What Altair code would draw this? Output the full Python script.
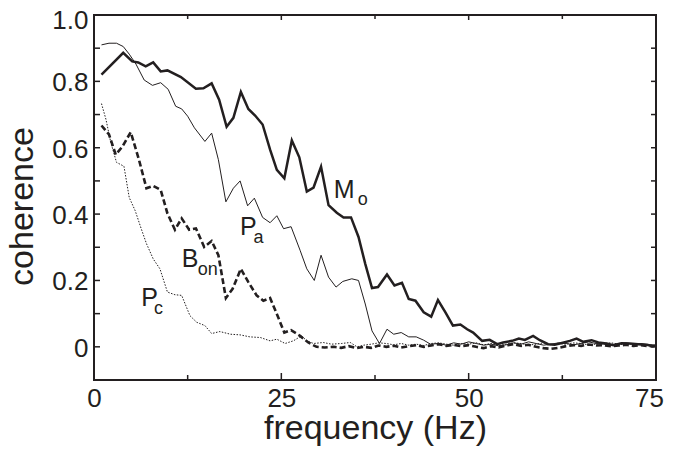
import altair as alt
import pandas as pd

FONT = "Liberation Sans"
INK = "#231f20"

# ---- data ----
mo_f = [1, 3.9, 5.1, 5.9, 6.9, 7.9, 8.9, 9.8, 11.6, 13.6, 14.6, 15.7, 16.7, 17.7, 18.6, 19.6,
        20.6, 21.5, 22.5, 23.5, 24.4, 25.4, 26.4, 27.4, 28.4, 29.3, 30.3, 31.3, 32.4, 33.3,
        34.3, 35.3, 36.2, 37.1, 37.9, 39.1, 40.1, 41.1, 42.0, 42.9, 44.0, 45.0, 45.9, 46.9,
        47.9, 48.9, 49.8, 50.6, 51.8, 52.8, 53.8, 54.6, 55.8, 56.7, 57.5, 58.6, 59.5, 60.6,
        61.5, 62.7, 63.5, 64.4, 65.3, 66.4, 67.3, 68.4, 69.3, 70.4, 71.5, 72.6, 73.8, 74.7]
mo_v = [0.82, 0.886, 0.86, 0.857, 0.845, 0.857, 0.83, 0.833, 0.813, 0.778, 0.779, 0.794, 0.745,
        0.663, 0.69, 0.768, 0.717, 0.697, 0.67, 0.594, 0.533, 0.508, 0.622, 0.571, 0.468, 0.48,
        0.543, 0.427, 0.404, 0.39, 0.39, 0.331, 0.25, 0.177, 0.18, 0.218, 0.185, 0.193, 0.144,
        0.139, 0.104, 0.091, 0.141, 0.104, 0.064, 0.067, 0.053, 0.043, 0.018, 0.021, 0.008,
        0.013, 0.018, 0.025, 0.021, 0.033, 0.02, 0.008, 0.006, 0.013, 0.018, 0.025, 0.015,
        0.02, 0.013, 0.01, 0.005, 0.011, 0.01, 0.008, 0.006, 0.001]

pa_f = [1, 2, 3, 3.9, 4.7, 5.6, 6.7, 7.8, 8.9, 9.9, 10.9, 11.7, 12.5, 13.4, 14.8, 15.7, 16.6,
        17.6, 18.6, 19.5, 20.5, 21.4, 22.5, 23.5, 24.4, 25.3, 26.3, 27.5, 28.4, 29.4, 30.3,
        31.3, 32.3, 33.2, 34.4, 35.3, 36.2, 37.1, 38.1, 39.1, 40.0, 41.0, 42.0, 43.0, 44.0,
        44.9, 46, 47, 48, 49, 50, 51, 52, 53, 54, 55, 56, 57, 58, 59, 60, 61, 62, 63, 64, 65,
        66, 67, 68, 69, 70, 71, 72, 73, 74, 75]
pa_v = [0.91, 0.915, 0.915, 0.905, 0.882, 0.852, 0.804, 0.788, 0.796, 0.776, 0.725, 0.717,
        0.695, 0.66, 0.619, 0.644, 0.564, 0.437, 0.478, 0.5, 0.425, 0.448, 0.39, 0.374, 0.395,
        0.356, 0.362, 0.291, 0.235, 0.2, 0.276, 0.21, 0.18, 0.197, 0.205, 0.2, 0.129, 0.048,
        0.01, 0.053, 0.038, 0.043, 0.03, 0.03, 0.02, 0.008, 0.01, 0.005, 0.012, 0.008, 0.015,
        0.01, 0.005, 0.008, 0.003, 0.006, 0.012, 0.008, 0.015, 0.01, 0.005, 0.008, 0.012, 0.01,
        0.006, 0.01, 0.015, 0.01, 0.008, 0.005, 0.01, 0.012, 0.008, 0.01, 0.006, 0.005]

bon_f = [1, 2, 2.9, 3.8, 4.9, 6.0, 7.0, 7.9, 8.9, 9.8, 10.8, 11.7, 12.7, 13.6, 14.7, 15.7, 16.6,
         17.6, 18.5, 19.6, 20.6, 21.7, 22.6, 23.5, 24.4, 25.4, 26.3, 27.5, 28.6, 29.7, 30.8, 32,
         33, 34, 35, 36, 37, 38, 39, 40, 41, 42, 43, 44, 45, 46, 47, 48, 49, 50, 51, 52, 53, 54,
         55, 56, 57, 58, 59, 60, 61, 62, 63, 64, 65, 66, 67, 68, 69, 70, 71, 72, 73, 74, 75]
bon_v = [0.667, 0.64, 0.579, 0.604, 0.647, 0.564, 0.478, 0.485, 0.473, 0.402, 0.353, 0.387,
         0.353, 0.357, 0.301, 0.319, 0.276, 0.147, 0.175, 0.235, 0.195, 0.155, 0.139, 0.147,
         0.099, 0.043, 0.05, 0.033, 0.013, 0.0, -0.002, 0.0, -0.003, 0.002, -0.004, 0.0,
         -0.003, 0.004, 0.0, 0.003, -0.002, 0.002, 0.005, 0.0, 0.004, 0.008, 0.003, 0.006,
         0.002, 0.005, 0.0, -0.004, 0.002, -0.002, 0.004, 0.008, 0.003, 0.006, 0.0, -0.004,
         -0.006, -0.003, 0.002, 0.005, 0.003, 0.007, 0.004, 0.005, 0.002, 0.004, 0.006, 0.003,
         0.005, 0.002, 0.003]

pc_f = [1, 1.6, 2.2, 3.0, 4.0, 4.7, 5.5, 6.3, 7.0, 7.9, 8.8, 9.8, 10.8, 11.7, 12.8, 13.7, 14.8,
        15.7, 16.8, 18.2, 19.5, 20.8, 22.2, 23.5, 24.4, 25.5, 26.6, 27.7, 28.4, 29.3, 30.6,
        31.7, 33, 34.2, 35.1, 36, 37, 38, 39, 40, 41, 42, 43, 44, 45, 46, 47, 48, 49, 50, 51,
        52, 53, 54, 55, 56, 57, 58, 59, 60, 61, 62, 63, 64, 65, 66, 67, 68, 69, 70, 71, 72, 73,
        74, 75]
pc_v = [0.733, 0.685, 0.62, 0.556, 0.544, 0.45, 0.41, 0.356, 0.311, 0.265, 0.235, 0.165, 0.157,
        0.155, 0.094, 0.074, 0.064, 0.04, 0.046, 0.038, 0.036, 0.03, 0.028, 0.018, 0.023, 0.01,
        0.018, 0.033, 0.018, 0.01, 0.013, 0.008, 0.01, 0.013, 0.0, 0.005, 0.008, 0.012, 0.01,
        0.006, 0.01, 0.005, 0.008, 0.004, 0.01, 0.012, 0.008, 0.005, 0.01, 0.008, 0.012, 0.006,
        0.01, 0.004, 0.008, 0.012, 0.01, 0.005, 0.008, 0.012, 0.006, 0.01, 0.008, 0.012, 0.01,
        0.006, 0.008, 0.01, 0.012, 0.008, 0.006, 0.01, 0.008, 0.005, 0.004]

# series labels: main letter, subscript, anchor (freq, coherence)
lab_main = ["M", "P", "B", "P"]
lab_sub = ["o", "a", "on", "c"]
lab_f = [32.0, 19.5, 11.7, 6.3]
lab_c = [0.448, 0.337, 0.24, 0.123]
sub_f = [35.2, 21.3, 13.85, 8.0]
sub_c = [0.428, 0.314, 0.215, 0.1]

x_ticks_major = [0, 25, 50, 75]
x_ticks_minor = [12.5, 37.5, 62.5]
y_ticks = [0, 0.1, 0.2, 0.3, 0.4, 0.5, 0.6, 0.7, 0.8, 0.9, 1.0]
y_labels = [0, 0.2, 0.4, 0.6, 0.8, 1.0]

W, H = 562, 365

xs = alt.Scale(domain=[0, 75], nice=False, zero=False)
ys = alt.Scale(domain=[-0.1, 1.0], nice=False, zero=False)

xax = alt.Axis(values=x_ticks_major, ticks=False, tickSize=0, domain=False, grid=False,
               labelFont=FONT, labelFontSize=26, labelColor=INK, labelPadding=5,
               labelFlush=False,
               labelOffset={"condition": {"test": "datum.value == 75", "value": -7}, "value": 0},
               title="frequency (Hz)", titleFont=FONT, titleFontSize=34,
               titleColor=INK, titleFontWeight="normal", titlePadding=0)
yax = alt.Axis(values=y_labels, ticks=False, tickSize=0, domain=False, grid=False,
               labelFont=FONT, labelFontSize=26, labelColor=INK, labelPadding=6,
               labelFlush=False,
               labelExpr="datum.value == 0 ? '0' : format(datum.value, '.1f')",
               labelOffset={"condition": {"test": "datum.value == 1", "value": 5}, "value": 1.5},
               title="coherence", titleFont=FONT, titleFontSize=34, titleColor=INK,
               titleFontWeight="normal", titlePadding=12, titleY=191)

X = lambda: alt.X("freq:Q", scale=xs, axis=xax)
Y = lambda: alt.Y("coh:Q", scale=ys, axis=yax)


def line(f, v, width, dash=None):
    df = pd.DataFrame({"freq": f, "coh": v})
    kw = dict(color=INK, strokeWidth=width, clip=True, strokeJoin="miter")
    if dash:
        kw["strokeDash"] = dash
    return alt.Chart(df).mark_line(**kw).encode(x=X(), y=Y())


layers = [
    line(pc_f, pc_v, 1.0, [1.5, 1.5]),
    line(bon_f, bon_v, 2.6, [6, 3]),
    line(pa_f, pa_v, 1.0),
    line(mo_f, mo_v, 2.5),
]

# inward ticks
ytk = pd.DataFrame({"coh": y_ticks})
layers.append(alt.Chart(ytk).mark_rule(color=INK, strokeWidth=1.5).encode(
    y=Y(), x=alt.value(0), x2=alt.value(6)))
layers.append(alt.Chart(ytk).mark_rule(color=INK, strokeWidth=1.5).encode(
    y=Y(), x=alt.value(W - 5), x2=alt.value(W)))
xmaj = pd.DataFrame({"freq": x_ticks_major})
xmin = pd.DataFrame({"freq": x_ticks_minor})
layers.append(alt.Chart(xmaj).mark_rule(color=INK, strokeWidth=1.5).encode(
    x=X(), y=alt.value(H), y2=alt.value(H - 7)))
layers.append(alt.Chart(xmin).mark_rule(color=INK, strokeWidth=1.5).encode(
    x=X(), y=alt.value(H), y2=alt.value(H - 5)))
layers.append(alt.Chart(xmaj).mark_rule(color=INK, strokeWidth=1.5).encode(
    x=X(), y=alt.value(0), y2=alt.value(5)))
layers.append(alt.Chart(xmin).mark_rule(color=INK, strokeWidth=1.5).encode(
    x=X(), y=alt.value(0), y2=alt.value(4)))

# labels
lm = pd.DataFrame({"freq": lab_f, "coh": lab_c, "t": lab_main})
ls = pd.DataFrame({"freq": sub_f, "coh": sub_c, "t": lab_sub})
layers.append(alt.Chart(lm).mark_text(font=FONT, fontSize=25, color=INK, align="left",
                                      baseline="alphabetic").encode(x=X(), y=Y(), text="t:N"))
layers.append(alt.Chart(ls).mark_text(font=FONT, fontSize=18, color=INK, align="left",
                                      baseline="alphabetic").encode(x=X(), y=Y(), text="t:N"))

chart = alt.layer(*layers).properties(
    width=W, height=H,
    autosize=alt.AutoSizeParams(type="none"),
    padding={"left": 86, "top": 7, "right": 9, "bottom": 67},
    background="white",
).configure_view(stroke=INK, strokeWidth=2)

chart.save("out.html", embed_options={"renderer": "svg", "actions": False})
